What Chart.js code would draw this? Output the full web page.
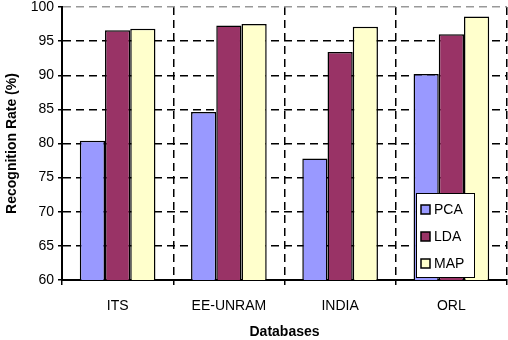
<!DOCTYPE html>
<html>
<head>
<meta charset="utf-8">
<script src="https://cdn.jsdelivr.net/npm/chart.js@4"></script>
<style>
  html, body { margin: 0; padding: 0; background: #fff; }
  #wrap { width: 508px; height: 340px; }
</style>
</head>
<body>
<div id="wrap"><canvas id="chart" width="508" height="340"></canvas></div>
<script>
// données
const databases = ["ITS", "EE-UNRAM", "INDIA", "ORL"];
const pcaValues = [80.4, 84.6, 77.8, 90.2];
const ldaValues = [96.6, 97.3, 93.4, 96.0];
const mapValues = [96.8, 97.5, 97.1, 98.6];
const yTicks = [60, 65, 70, 75, 80, 85, 90, 95, 100];

const font = "'Liberation Sans', Arial, sans-serif";

// legende dessinee dans la zone du graphique (en bas a droite)
const insideLegend = {
  id: "insideLegend",
  afterDraw(chart) {
    const ctx = chart.ctx;
    const x = 416, y = 193, w = 58, h = 84;
    ctx.save();
    ctx.fillStyle = "#fff";
    ctx.fillRect(x, y, w, h);
    ctx.strokeStyle = "#000";
    ctx.lineWidth = 1;
    ctx.strokeRect(x + 0.5, y + 0.5, w, h);
    ctx.font = "14px " + font;
    ctx.textBaseline = "middle";
    chart.data.datasets.forEach((ds, i) => {
      const cy = y + 16 + i * 27;
      ctx.fillStyle = ds.backgroundColor;
      ctx.fillRect(x + 5, cy - 4, 9, 9);
      ctx.lineWidth = 1.5;
      ctx.strokeRect(x + 5, cy - 4, 9, 9);
      ctx.fillStyle = "#000";
      ctx.fillText(ds.label, x + 18, cy + 1);
    });
    ctx.restore();
  },
};

const ctx = document.getElementById("chart").getContext("2d");
new Chart(ctx, {
  type: "bar",
  data: {
    labels: databases,
    datasets: [
      { label: "PCA", data: pcaValues, backgroundColor: "#9999FF", borderColor: "#000", borderWidth: 1.5 },
      { label: "LDA", data: ldaValues, backgroundColor: "#993366", borderColor: "#000", borderWidth: 1.5 },
      { label: "MAP", data: mapValues, backgroundColor: "#FFFFCC", borderColor: "#000", borderWidth: 1.5 },
    ],
  },
  options: {
    responsive: false,
    animation: false,
    layout: { padding: { top: 7, right: 1, left: 0, bottom: 0 } },
    datasets: { bar: { categoryPercentage: 0.68, barPercentage: 1.0 } },
    plugins: {
      legend: { display: false },
      tooltip: { enabled: false },
    },
    scales: {
      x: {
        offset: true,
        grid: {
          offset: true,
          color: (c) => (c.index === databases.length ? "#999" : "#000"),
          lineWidth: 1.5,
          drawTicks: true,
          tickLength: 5,
          tickColor: "#000",
        },
        border: { display: true, color: "#000", width: 2, dash: [8, 5] },
        ticks: { color: "#000", font: { family: font, size: 14 }, padding: 13 },
        title: {
          display: true,
          text: "Databases",
          color: "#000",
          font: { family: font, size: 14, weight: "bold" },
          padding: { top: 12, bottom: -1 },
        },
        afterFit: (scale) => { scale.height = 60; },
      },
      y: {
        min: 60,
        max: 100,
        afterBuildTicks: (scale) => { scale.ticks = yTicks.map((v) => ({ value: v })); },
        grid: {
          color: (c) => (c.tick && c.tick.value === 100 ? "#999" : "#000"),
          lineWidth: 1.5,
          tickLength: 4,
          tickColor: "#000",
        },
        border: { display: true, color: "#000", width: 2, dash: [8, 5] },
        ticks: { color: "#000", font: { family: font, size: 14 }, padding: 4 },
        title: {
          display: true,
          text: "Recognition Rate (%)",
          color: "#000",
          font: { family: font, size: 14, weight: "bold" },
          padding: { bottom: 1 },
        },
        afterFit: (scale) => {
          scale.width = 62;
          scale.paddingTop = 0;
          scale.paddingBottom = 0;
        },
      },
    },
  },
  plugins: [insideLegend],
});
</script>
</body>
</html>
